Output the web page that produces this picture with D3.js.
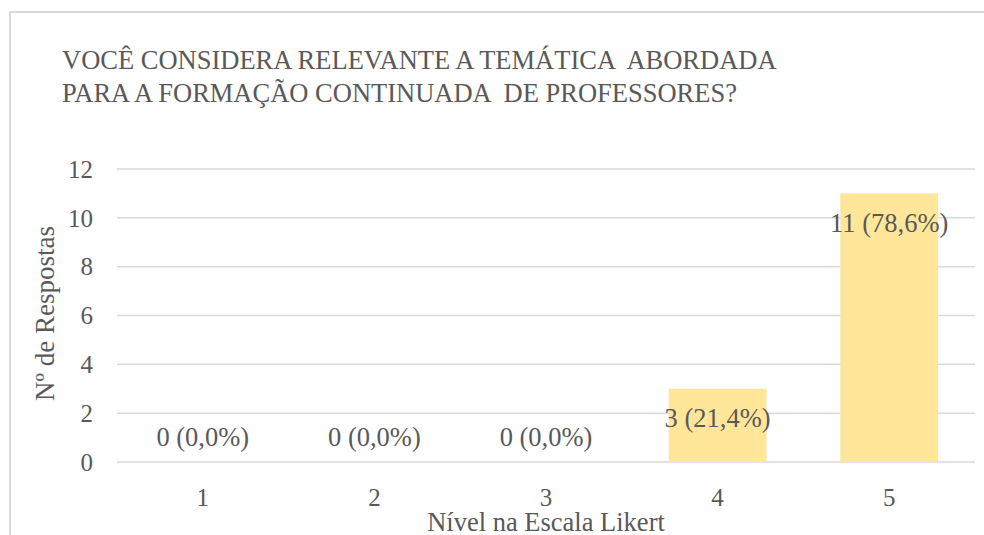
<!DOCTYPE html>
<html>
<head>
<meta charset="utf-8">
<script src="https://cdn.jsdelivr.net/npm/d3@7"></script>
<style>
    body { margin: 0; background: #fff; }
    text { font-family: "Liberation Serif", "Times New Roman", serif; fill: #595959; }
</style>
</head>
<body>
<svg id="chart"></svg>
<script>
// chart values
const levels = ["1", "2", "3", "4", "5"];
const counts = [0, 0, 0, 3, 11];
const percents = ["0,0%", "0,0%", "0,0%", "21,4%", "78,6%"];
const yTicks = [0, 2, 4, 6, 8, 10, 12];
const titleLines = ["VOCÊ CONSIDERA RELEVANTE A TEMÁTICA  ABORDADA", "PARA A FORMAÇÃO CONTINUADA  DE PROFESSORES?"];

const width = 984, height = 535;
const margin = { top: 169, right: 9, bottom: 73, left: 117 };

const svg = d3.select("#chart")
    .attr("width", width)
    .attr("height", height);

// outer chart border
svg.append("rect")
    .attr("x", 10).attr("y", 12)
    .attr("width", width + 20).attr("height", height + 20)
    .attr("fill", "none")
    .attr("stroke", "#d9d9d9")
    .attr("stroke-width", 2);

const x = d3.scaleBand()
    .domain(levels)
    .range([margin.left, width - margin.right])
    .paddingInner(0.43)
    .paddingOuter(0.215);

const y = d3.scaleLinear()
    .domain([0, 12])
    .range([height - margin.bottom, margin.top]);

// gridlines
svg.append("g")
    .selectAll("line")
    .data(yTicks)
    .join("line")
    .attr("x1", margin.left)
    .attr("x2", width - margin.right)
    .attr("y1", d => y(d))
    .attr("y2", d => y(d))
    .attr("stroke", "#d9d9d9")
    .attr("stroke-width", 1.5);

// y tick labels
svg.append("g")
    .selectAll("text")
    .data(yTicks)
    .join("text")
    .attr("x", 93)
    .attr("y", d => y(d))
    .attr("dy", "0.35em")
    .attr("text-anchor", "end")
    .style("font-size", "25px")
    .text(d => d);

// bars
svg.append("g")
    .selectAll("rect")
    .data(counts)
    .join("rect")
    .attr("x", (d, i) => x(levels[i]))
    .attr("y", d => y(d))
    .attr("width", x.bandwidth())
    .attr("height", d => y(0) - y(d))
    .attr("fill", "#ffe699");

// data labels (inside end, like Excel)
svg.append("g")
    .selectAll("text")
    .data(counts)
    .join("text")
    .attr("x", (d, i) => x(levels[i]) + x.bandwidth() / 2)
    .attr("y", d => d > 0 ? y(d) + 29 : y(0) - 25)
    .attr("dy", "0.35em")
    .attr("text-anchor", "middle")
    .style("font-size", "26.5px")
    .text((d, i) => d + " (" + percents[i] + ")");

// x tick labels
svg.append("g")
    .selectAll("text")
    .data(levels)
    .join("text")
    .attr("x", d => x(d) + x.bandwidth() / 2)
    .attr("y", 497)
    .attr("dy", "0.35em")
    .attr("text-anchor", "middle")
    .style("font-size", "25px")
    .text(d => d);

// axis titles
svg.append("text")
    .attr("x", (margin.left + width - margin.right) / 2)
    .attr("y", 522)
    .attr("dy", "0.35em")
    .attr("text-anchor", "middle")
    .style("font-size", "26.5px")
    .text("Nível na Escala Likert");

svg.append("text")
    .attr("transform", "translate(45," + ((y(0) + y(12)) / 2 - 2) + ") rotate(-90)")
    .attr("dy", "0.35em")
    .attr("text-anchor", "middle")
    .style("font-size", "27px")
    .text("Nº de Respostas");

// title
svg.append("g")
    .selectAll("text")
    .data(titleLines)
    .join("text")
    .attr("x", 62)
    .attr("y", (d, i) => 60 + i * 33)
    .attr("dy", "0.35em")
    .style("font-size", "26.5px")
    .style("white-space", "pre")
    .text(d => d);
</script>
</body>
</html>
